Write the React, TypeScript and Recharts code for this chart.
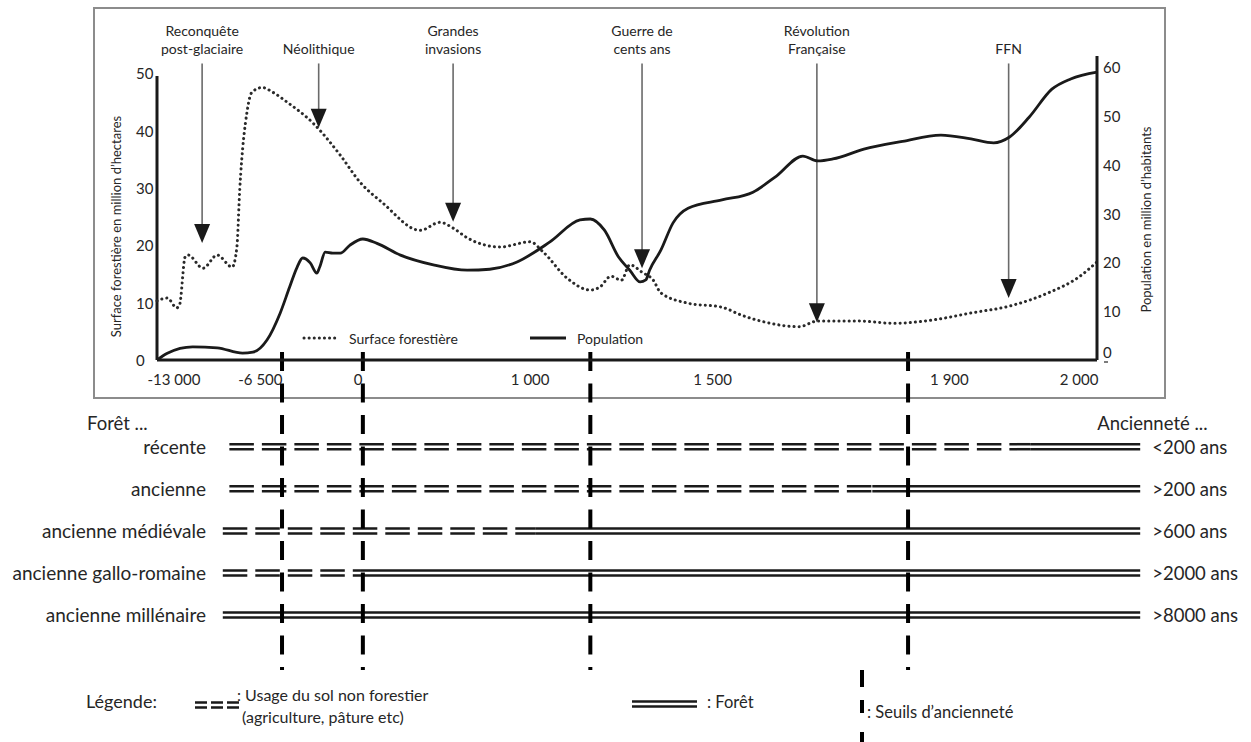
import React from 'react';
import { ComposedChart, Line, XAxis, YAxis, ReferenceLine, Legend, BarChart, Bar } from 'recharts';

const FONT = 'Lato, "Open Sans", sans-serif';
const INK = '#1a1a1a';
const TEXT = '#262626';

// position on the schematic time axis (0 = left axis, 100 = right axis; the axis is not to scale)
const forestPos = [0, 1.1, 2.1, 2.4, 3.0, 3.3, 4.9, 6.4, 8.0, 8.5, 8.8, 9.6, 10.1, 11.2, 12.3, 13.8, 16.6, 19.5, 21.6, 24.0, 28.0, 30.1, 31.5, 33.0, 36.5, 39.7, 41.1, 43.6, 46.1, 47.1, 48.3, 49.4, 50.3, 51.6, 52.8, 53.6, 56.5, 60.1, 62.2, 64.7, 68.3, 70.3, 74.5, 78.5, 82.6, 86.6, 90.7, 94.8, 98.1, 100];
// surface forestière, million d'hectares
const forestArea = [10.3, 10.8, 9.1, 9.6, 18.0, 18.3, 16.0, 18.3, 16.2, 19.7, 29.6, 43.5, 46.7, 47.5, 46.7, 45.0, 41.3, 35.7, 31.0, 27.4, 22.6, 24.0, 23.0, 21.3, 19.7, 20.6, 18.8, 14.3, 12.2, 12.7, 14.6, 13.9, 16.6, 15.3, 13.9, 11.7, 9.9, 9.2, 7.8, 6.6, 5.8, 6.8, 6.8, 6.4, 7.0, 8.2, 9.4, 11.7, 14.5, 17.1];

const popPos = [0, 1.1, 3.8, 6.4, 9.1, 10.2, 11.7, 13.1, 14.1, 14.9, 15.5, 16.3, 17.0, 17.3, 17.9, 18.7, 19.5, 20.5, 21.9, 23.4, 25.9, 29.4, 33.0, 35.4, 38.3, 41.8, 45.0, 46.1, 47.6, 49.1, 50.3, 51.4, 52.0, 52.4, 53.6, 54.9, 56.5, 60.1, 63.4, 65.9, 68.7, 70.3, 71.9, 75.2, 79.3, 83.4, 86.6, 89.0, 90.7, 92.8, 95.2, 97.2, 100];
// population, million d'habitants
const population = [0, 1.4, 2.7, 2.5, 1.4, 1.6, 4.1, 9.6, 14.9, 19.0, 20.9, 19.9, 17.8, 19.0, 22.1, 21.9, 21.9, 23.5, 24.8, 23.9, 21.5, 19.5, 18.4, 18.6, 20.1, 24.2, 28.7, 28.9, 26.6, 21.1, 18.4, 16.0, 16.4, 18.4, 22.5, 28.1, 31.1, 32.8, 34.4, 37.7, 41.8, 40.8, 41.2, 43.2, 44.8, 46.1, 45.3, 44.5, 45.7, 49.8, 55.5, 57.6, 59.0];

const xTickPos = [1.8, 11.0, 21.4, 39.7, 59.1, 84.3, 98.1];
const xTickLabels = ['-13 000', '-6 500', '0', '1 000', '1 500', '1 900', '2 000'];
const leftTicks = [0, 10, 20, 30, 40, 50];
const rightTicks = [0, 10, 20, 30, 40, 50, 60];

// seuils d'ancienneté
const thresholdPos = [13.3, 21.9, 46.1, 79.9];

const eventNames = [['Reconquête', 'post-glaciaire'], ['Néolithique'], ['Grandes', 'invasions'], ['Guerre de', 'cents ans'], ['Révolution', 'Française'], ['FFN']];
const eventPos = [4.8, 17.2, 31.5, 51.6, 70.2, 90.6];
const eventTip = [20.4, 40.5, 24.1, 16.0, 6.6, 10.8];
const eventTop = 51.7;

const rowNames = ['récente', 'ancienne', 'ancienne médiévale', 'ancienne gallo-romaine', 'ancienne millénaire'];
const rowAges = ['<200 ans', '>200 ans', '>600 ans', '>2000 ans', '>8000 ans'];
const rowStart = [7.7, 7.7, 7.0, 7.0, 7.0];
const rowForestFrom = [92.9, 76.1, 40.3, 21.6, 7.0];
const rowEnd = [104.6, 104.6, 104.6, 104.6, 104.6];

const forestData = forestPos.map((t, i) => ({ t, v: forestArea[i] }));
const popData = popPos.map((t, i) => ({ t, v: population[i] }));
const rowData = rowNames.map((name, i) => ({
  name,
  age: rowAges[i],
  lead: rowStart[i],
  nonForest: rowForestFrom[i] - rowStart[i],
  forest: rowEnd[i] - rowForestFrom[i],
}));

const seriesOrder = ['Surface forestière', 'Population'];

const XTick = ({ x, y, payload }: any) => {
  const idx = xTickPos.indexOf(payload.value);
  return (
    <text x={x} y={y + 19} textAnchor="middle" dominantBaseline="central" fontSize={15} fill={TEXT} fontFamily={FONT}>
      {xTickLabels[idx]}
    </text>
  );
};

const LeftTick = ({ x, y, payload }: any) => (
  <text x={x - 21} y={y} textAnchor="start" dominantBaseline="central" fontSize={15} fill={TEXT} fontFamily={FONT}>
    {payload.value}
  </text>
);

const RightTick = ({ x, y, payload }: any) => (
  <g>
    <text x={x + 6} y={payload.value === 0 ? y - 8 : y} textAnchor="start" dominantBaseline="central" fontSize={15} fill={TEXT} fontFamily={FONT}>
      {payload.value}
    </text>
    {payload.value === 0 && <line x1={x + 7} x2={x + 11} y1={y + 2} y2={y + 2} stroke={TEXT} strokeWidth={1.2} />}
  </g>
);

const AxisTitle = (props: any) => {
  const vb = props.viewBox || { x: 0, y: 0, width: 0, height: 0 };
  const cx = vb.x + props.offX;
  const cy = vb.y + vb.height / 2 + props.offY;
  return (
    <text x={cx} y={cy} transform={`rotate(-90 ${cx} ${cy})`} textAnchor="middle" dominantBaseline="central" fontSize={13} fill={TEXT} fontFamily={FONT}>
      {props.title}
    </text>
  );
};

const EventArrow = (props: any) => {
  const { x1, y1, y2, lines } = props;
  const top = Math.min(y1, y2);
  const tip = Math.max(y1, y2);
  const headH = 19;
  const headW = 16;
  return (
    <g>
      {lines.map((l: string, i: number) => (
        <text key={l} x={x1} y={top - 15 - (lines.length - 1 - i) * 18} textAnchor="middle" dominantBaseline="central" fontSize={14} fill={TEXT} fontFamily={FONT}>
          {l}
        </text>
      ))}
      <line x1={x1} x2={x1} y1={top} y2={tip - headH + 1} stroke="#6a6a6a" strokeWidth={1.6} />
      <polygon points={`${x1 - headW / 2},${tip - headH} ${x1 + headW / 2},${tip - headH} ${x1},${tip}`} fill={INK} />
    </g>
  );
};

const Threshold = (props: any) => {
  const bottom = Math.max(props.y1, props.y2);
  return <line x1={props.x1} x2={props.x1} y1={bottom - 8} y2={bottom + 310} stroke="#000" strokeWidth={4} strokeDasharray="19 12.5" />;
};

const TopLegend = ({ payload }: any) => {
  const items = [...(payload || [])].sort((a, b) => seriesOrder.indexOf(a.value) - seriesOrder.indexOf(b.value));
  return (
    <div style={{ position: 'relative', height: 20, fontFamily: FONT }}>
      {items.map((e: any, i: number) => (
        <div key={e.value} style={{ position: 'absolute', left: i * 228, top: 0, height: 20, display: 'flex', alignItems: 'center', whiteSpace: 'nowrap' }}>
          <svg width={36} height={20}>
            {i === 0 ? (
              <line x1={2} x2={34} y1={10} y2={10} stroke="#2a2a2a" strokeWidth={3} strokeDasharray="0.1 5" strokeLinecap="round" />
            ) : (
              <line x1={0} x2={36} y1={10} y2={10} stroke={INK} strokeWidth={3} />
            )}
          </svg>
          <span style={{ marginLeft: 11, fontSize: 14, color: TEXT }}>{e.value}</span>
        </div>
      ))}
    </div>
  );
};

const DoubleLine = ({ x, y, width, height, dashed }: any) => {
  if (!width || width < 1) return null;
  const cy = y + height / 2;
  const dash = dashed ? '24.5 8' : undefined;
  return (
    <g>
      <line x1={x} x2={x + width} y1={cy - 2.5} y2={cy - 2.5} stroke={INK} strokeWidth={2.5} strokeDasharray={dash} />
      <line x1={x} x2={x + width} y1={cy + 2.5} y2={cy + 2.5} stroke={INK} strokeWidth={2.5} strokeDasharray={dash} />
    </g>
  );
};

const RowTick = ({ x, y, payload }: any) => (
  <text x={x + 49} y={y} textAnchor="end" dominantBaseline="central" fontSize={19} fill={TEXT} fontFamily={FONT}>
    {payload.value}
  </text>
);

const AgeTick = ({ x, y, payload }: any) => (
  <text x={x + 12} y={y} textAnchor="start" dominantBaseline="central" fontSize={18.5} fill={TEXT} fontFamily={FONT}>
    {payload.value}
  </text>
);

const HeaderLabel = (props: any) => {
  const vb = props.viewBox || { x: 0, y: 0 };
  return (
    <text x={vb.x + props.offX} y={vb.y - 2.5} textAnchor="start" dominantBaseline="central" fontSize={18.5} fill={TEXT} fontFamily={FONT}>
      {props.title}
    </text>
  );
};

const BottomLegend = () => (
  <div style={{ position: 'relative', width: 1251, height: 72, fontFamily: FONT, color: TEXT }}>
    <span style={{ position: 'absolute', left: 86, top: 19, fontSize: 18, lineHeight: '24px' }}>Légende:</span>
    <svg style={{ position: 'absolute', left: 195, top: 28 }} width={44} height={14}>
      <line x1={0} x2={44} y1={4.5} y2={4.5} stroke={INK} strokeWidth={2.5} strokeDasharray="12 4" />
      <line x1={0} x2={44} y1={9.5} y2={9.5} stroke={INK} strokeWidth={2.5} strokeDasharray="12 4" />
    </svg>
    <span style={{ position: 'absolute', left: 237, top: 14, fontSize: 16, lineHeight: '22px', whiteSpace: 'nowrap' }}>: Usage du sol non forestier</span>
    <span style={{ position: 'absolute', left: 242, top: 36, fontSize: 16, lineHeight: '22px', whiteSpace: 'nowrap' }}>(agriculture, pâture etc)</span>
    <svg style={{ position: 'absolute', left: 632, top: 27 }} width={65} height={14}>
      <line x1={0} x2={65} y1={4.5} y2={4.5} stroke={INK} strokeWidth={2.5} />
      <line x1={0} x2={65} y1={9.5} y2={9.5} stroke={INK} strokeWidth={2.5} />
    </svg>
    <span style={{ position: 'absolute', left: 707, top: 21, fontSize: 16.5, lineHeight: '22px', whiteSpace: 'nowrap' }}>: Forêt</span>
    <svg style={{ position: 'absolute', left: 858, top: 0 }} width={8} height={72}>
      <line x1={4} x2={4} y1={0} y2={72} stroke="#000" strokeWidth={4} strokeDasharray="17 13 13 19 10" />
    </svg>
    <span style={{ position: 'absolute', left: 867, top: 31, fontSize: 16.5, lineHeight: '22px', whiteSpace: 'nowrap' }}>: Seuils d’ancienneté</span>
  </div>
);

export default function App() {
  return (
    <div style={{ position: 'absolute', left: 0, top: 0, width: 1251, height: 742, background: '#fff', fontFamily: FONT, color: TEXT, overflow: 'hidden' }}>
      <div style={{ position: 'absolute', left: 93, top: 7, width: 1073, height: 392, border: '2px solid #8c8c8c', boxSizing: 'border-box' }} />

      <div style={{ position: 'absolute', left: 0, top: 400 }}>
        <BarChart layout="vertical" width={1251} height={342} data={rowData} margin={{ top: 25.5, right: 50.8, bottom: 106, left: 97 }}>
          <XAxis type="number" domain={[0, 104.6]} hide />
          <YAxis
            yAxisId="left"
            type="category"
            dataKey="name"
            width={60}
            interval={0}
            axisLine={false}
            tickLine={false}
            tickSize={0}
            tickMargin={0}
            tick={RowTick}
            label={<HeaderLabel title="Forêt ..." offX={-10} />}
          />
          <YAxis
            yAxisId="right"
            orientation="right"
            type="category"
            dataKey="age"
            width={60}
            interval={0}
            axisLine={false}
            tickLine={false}
            tickSize={0}
            tickMargin={0}
            tick={AgeTick}
            label={<HeaderLabel title="Ancienneté ..." offX={-43} />}
          />
          <Bar yAxisId="left" dataKey="lead" stackId="row" fill="none" legendType="none" isAnimationActive={false} />
          <Bar yAxisId="left" dataKey="nonForest" name="Usage du sol non forestier" stackId="row" shape={(p: any) => <DoubleLine {...p} dashed />} isAnimationActive={false} />
          <Bar yAxisId="left" dataKey="forest" name="Forêt" stackId="row" shape={(p: any) => <DoubleLine {...p} />} isAnimationActive={false} />
          <Legend content={<BottomLegend />} align="center" verticalAlign="middle" wrapperStyle={{ left: 0, top: 270, width: 1251, height: 72 }} />
        </BarChart>
      </div>

      <div style={{ position: 'absolute', left: 0, top: 0 }}>
        <ComposedChart width={1251} height={742} margin={{ top: 56, right: 94, bottom: 352, left: 97 }}>
          <XAxis
            type="number"
            dataKey="t"
            domain={[0, 100]}
            ticks={xTickPos}
            interval={0}
            height={30}
            tickLine={false}
            tickSize={0}
            tickMargin={0}
            tick={XTick}
            axisLine={{ stroke: INK, strokeWidth: 3 }}
          />
          <YAxis
            yAxisId="left"
            domain={[0, 53]}
            ticks={leftTicks}
            interval={0}
            width={60}
            axisLine={false}
            tickLine={false}
            tickSize={0}
            tickMargin={0}
            tick={LeftTick}
            label={<AxisTitle title="Surface forestière en million d’hectares" offX={19} offY={18.5} />}
          />
          <YAxis
            yAxisId="right"
            orientation="right"
            domain={[0, 62.3]}
            ticks={rightTicks}
            interval={0}
            width={60}
            axisLine={{ stroke: INK, strokeWidth: 3 }}
            tickLine={false}
            tickSize={0}
            tickMargin={0}
            tick={RightTick}
            label={<AxisTitle title="Population en million d’habitants" offX={49} offY={11.5} />}
          />
          <ReferenceLine yAxisId="left" segment={[{ x: 0, y: 0 }, { x: 0, y: 49.5 }]} stroke={INK} strokeWidth={3} />
          {eventPos.map((pos, i) => (
            <ReferenceLine
              key={`ev-${i}`}
              yAxisId="left"
              segment={[{ x: pos, y: eventTop }, { x: pos, y: eventTip[i] }]}
              shape={(p: any) => <EventArrow {...p} lines={eventNames[i]} />}
            />
          ))}
          <Line data={forestData} yAxisId="left" dataKey="v" name="Surface forestière" type="monotone" stroke="#2a2a2a" strokeWidth={3} strokeDasharray="0.1 5" strokeLinecap="round" dot={false} activeDot={false} isAnimationActive={false} />
          <Line data={popData} yAxisId="right" dataKey="v" name="Population" type="monotone" stroke={INK} strokeWidth={2.8} dot={false} activeDot={false} isAnimationActive={false} />
          {thresholdPos.map((pos) => (
            <ReferenceLine key={`th-${pos}`} yAxisId="left" x={pos} shape={Threshold} />
          ))}
          <Legend content={<TopLegend />} align="center" verticalAlign="middle" wrapperStyle={{ left: 302, top: 328, width: 420, height: 20 }} />
        </ComposedChart>
      </div>
    </div>
  );
}
